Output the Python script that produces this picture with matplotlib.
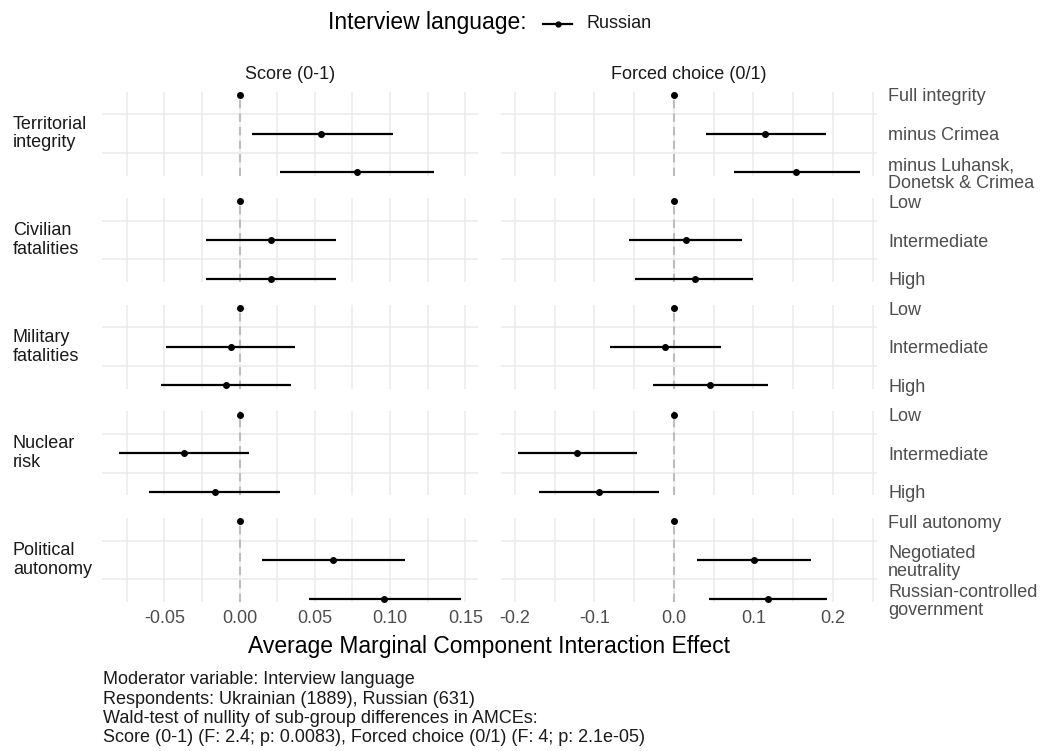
import matplotlib.pyplot as plt
import numpy as np
from matplotlib.lines import Line2D

plt.rcParams['font.family'] = ['Liberation Sans', 'DejaVu Sans']

W, H = 1046, 751

attributes = ['Territorial\nintegrity', 'Civilian\nfatalities', 'Military\nfatalities',
              'Nuclear\nrisk', 'Political\nautonomy']
levels = [
    ['Full integrity', 'minus Crimea', 'minus Luhansk,\nDonetsk & Crimea'],
    ['Low', 'Intermediate', 'High'],
    ['Low', 'Intermediate', 'High'],
    ['Low', 'Intermediate', 'High'],
    ['Full autonomy', 'Negotiated\nneutrality', 'Russian-controlled\ngovernment'],
]
outcomes = ['Score (0-1)', 'Forced choice (0/1)']

# Score (0-1): estimate, lower and upper CI, one row per attribute
score_est = [[0, 0.054, 0.078], [0, 0.021, 0.021], [0, -0.006, -0.009], [0, -0.037, -0.016], [0, 0.062, 0.096]]
score_lo = [[0, 0.008, 0.027], [0, -0.022, -0.022], [0, -0.049, -0.052], [0, -0.080, -0.060], [0, 0.015, 0.046]]
score_hi = [[0, 0.102, 0.129], [0, 0.064, 0.064], [0, 0.037, 0.034], [0, 0.006, 0.027], [0, 0.110, 0.147]]

# Forced choice (0/1)
fc_est = [[0, 0.115, 0.154], [0, 0.015, 0.026], [0, -0.011, 0.046], [0, -0.122, -0.094], [0, 0.101, 0.118]]
fc_lo = [[0, 0.040, 0.076], [0, -0.057, -0.049], [0, -0.081, -0.026], [0, -0.196, -0.170], [0, 0.029, 0.044]]
fc_hi = [[0, 0.191, 0.234], [0, 0.086, 0.099], [0, 0.059, 0.118], [0, -0.047, -0.019], [0, 0.172, 0.192]]

score_ticks = [-0.05, 0.00, 0.05, 0.10, 0.15]
fc_ticks = [-0.2, -0.1, 0.0, 0.1, 0.2]

legend_title = 'Interview language:'
legend_label = 'Russian'
x_title = 'Average Marginal Component Interaction Effect'
caption = ['Moderator variable: Interview language',
           'Respondents: Ukrainian (1889), Russian (631)',
           'Wald-test of nullity of sub-group differences in AMCEs:',
           'Score (0-1) (F: 2.4; p: 0.0083), Forced choice (0/1) (F: 4; p: 2.1e-05)']

grid_col = '#EBEBEB'
txt_dark = '#1A1A1A'
txt_grey = '#4D4D4D'


def px(x, y):
    return x / W, 1 - y / H


fig = plt.figure(figsize=(W / 100, H / 100), dpi=100)

col_left = [102, 501]
col_w = 376
row_top0 = 91.5
row_h = 84
row_step = 106.6

data = [(score_est, score_lo, score_hi, score_ticks, '%.2f'),
        (fc_est, fc_lo, fc_hi, fc_ticks, '%.1f')]

for c, (est, lo, hi, ticks, fmt) in enumerate(data):
    lo_all = np.min(lo)
    hi_all = np.max(hi)
    pad = 0.05 * (hi_all - lo_all)
    xlim = (lo_all - pad, hi_all + pad)
    step = ticks[1] - ticks[0]
    minors = np.arange(ticks[0] - step / 2, xlim[1], step)
    minors = minors[(minors > xlim[0]) & (minors < xlim[1])]
    for r in range(len(attributes)):
        top = row_top0 + r * row_step
        x0, y0 = px(col_left[c], top + row_h)
        ax = fig.add_axes([x0, y0, col_w / W, row_h / H])
        y = np.arange(len(levels[r]))
        ax.axvline(0, color='#BDBDBD', ls=(0, (4, 2.5)), lw=1.5, zorder=1)
        ax.hlines(y, lo[r], hi[r], color='black', lw=1.6, zorder=3)
        ax.plot(est[r], y, 'o', color='black', ms=4, zorder=4)
        ax.set_xlim(xlim)
        ax.set_ylim(len(levels[r]) - 1 + 0.087, -0.087)
        ax.set_xticks(ticks)
        ax.set_xticks(minors, minor=True)
        ax.set_yticks(y)
        ax.set_yticks(y[:-1] + 0.5, minor=True)
        ax.grid(True, which='both', axis='x', color=grid_col, lw=1.1, zorder=0)
        ax.grid(True, which='minor', axis='y', color=grid_col, lw=1.1, zorder=0)
        ax.set_axisbelow(True)
        for s in ax.spines.values():
            s.set_visible(False)
        ax.tick_params(which='both', length=0)
        if r == len(attributes) - 1:
            ax.set_xticklabels([fmt % t for t in ticks])
            ax.tick_params(axis='x', pad=6, labelsize=13, labelcolor=txt_grey)
        else:
            ax.set_xticklabels([])
        if c == 1:
            ax.yaxis.tick_right()
            ax.set_yticklabels(levels[r])
            ax.tick_params(axis='y', pad=8, labelsize=13, labelcolor=txt_grey)
            for lbl in ax.get_yticklabels():
                lbl.set_linespacing(1.1)
        else:
            ax.set_yticklabels([])
        if r == 0:
            ax.set_title(outcomes[c], fontsize=13, color=txt_dark, pad=9)
        if c == 0:
            fx, fy = px(13, top + row_h / 2)
            fig.text(fx, fy, attributes[r], ha='left', va='center', fontsize=13,
                     color=txt_dark, linespacing=1.15)

# legend at the top
fx, fy = px(328, 23)
fig.text(fx, fy, legend_title, ha='left', va='center', fontsize=16.5, color='black')
lx0, ly = px(543, 23.5)
lx1, _ = px(572, 23.5)
fig.add_artist(Line2D([lx0, lx1], [ly, ly], color='black', lw=1.6))
fig.add_artist(Line2D([(lx0 + lx1) / 2], [ly], marker='o', ms=3.5, color='black'))
fx, fy = px(587, 24)
fig.text(fx, fy, legend_label, ha='left', va='center', fontsize=13, color=txt_dark)

# x axis title
fx, fy = px(489.5, 646)
fig.text(fx, fy, x_title, ha='center', va='center', fontsize=16.5, color='black')

# caption
for i, line in enumerate(caption):
    fx, fy = px(103, 684 + i * 19.5)
    fig.text(fx, fy, line, ha='left', va='baseline', fontsize=13, color=txt_dark)

fig.savefig('out.png', dpi=100, facecolor='white')
